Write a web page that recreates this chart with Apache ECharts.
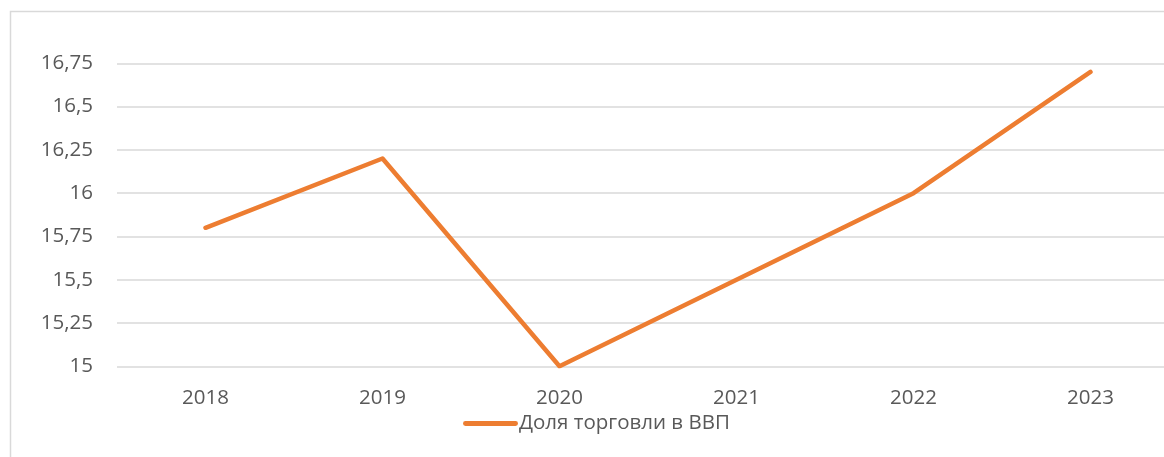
<!DOCTYPE html>
<html>
<head>
<meta charset="utf-8">
<script src="https://cdn.jsdelivr.net/npm/echarts@6/dist/echarts.min.js"></script>
<style>
html,body{margin:0;padding:0;background:#fff;}
#chart{width:1164px;height:457px;}
</style>
</head>
<body>
<div id="chart"></div>
<script>
const categories = ['2018', '2019', '2020', '2021', '2022', '2023'];
const tradeShare = [15.8, 16.2, 15.0, 15.5, 16.0, 16.7];
const seriesName = 'Доля торговли в ВВП';
const yMin = 15, yMax = 16.75, yStep = 0.25;

const chart = echarts.init(document.getElementById('chart'), null, {renderer: 'canvas'});
const font = '"Open Sans", "DejaVu Sans", sans-serif';
chart.setOption({
  animation: false,
  backgroundColor: '#fff',
  graphic: [{
    type: 'rect',
    shape: {x: 10.5, y: 11.5, width: 1300, height: 600},
    style: {fill: 'none', stroke: '#D9D9D9', lineWidth: 1.5},
    silent: true, z: -1
  }],
  grid: {left: 117, width: 1062, top: 63.3, height: 303, containLabel: false, outerBoundsMode: 'none'},
  legend: {
    left: 463, top: 413, padding: 0,
    itemWidth: 55, itemHeight: 5, itemGap: 20,
    textStyle: {color: '#595959', fontSize: 20.5, fontFamily: font, padding: [0,0,0,-4]},
    data: [{name: seriesName, icon: 'path://M2,0 L53,0 A2.5,2.5 0 0 1 53,5 L2,5 A2.5,2.5 0 0 1 2,0 Z'}]
  },
  xAxis: {
    type: 'category',
    data: categories,
    boundaryGap: true,
    axisLine: {show: false},
    axisTick: {show: false},
    axisLabel: {color: '#595959', fontSize: 20.5, fontFamily: font, margin: 21}
  },
  yAxis: {
    type: 'value',
    min: yMin, max: yMax, interval: yStep,
    axisLine: {show: false},
    axisTick: {show: false},
    splitLine: {lineStyle: {color: '#D9D9D9', width: 1.5}},
    axisLabel: {
      color: '#595959', fontSize: 20.5, fontFamily: font, margin: 24,
      formatter: v => String(Math.round(v * 100) / 100).replace('.', ',')
    }
  },
  series: [{
    name: seriesName,
    type: 'line',
    data: tradeShare,
    symbol: 'none',
    color: '#ED7D31',
    lineStyle: {width: 4.5, color: '#ED7D31', cap: 'round', join: 'round'}
  }]
});
</script>
</body>
</html>
